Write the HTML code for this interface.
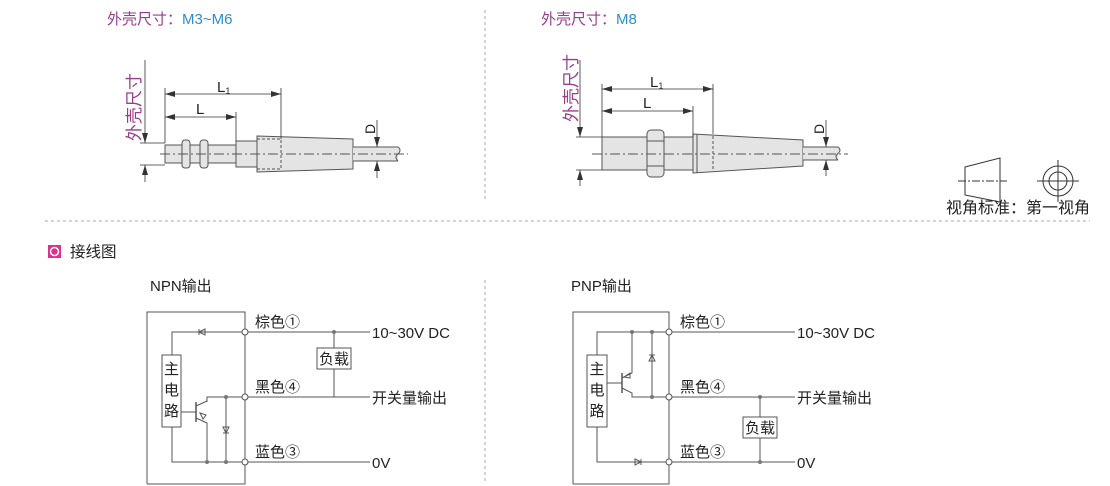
<!DOCTYPE html>
<html><head><meta charset="utf-8"><style>
body{margin:0;background:#fff}
svg{display:block}
text{font-family:"Liberation Sans","Noto Sans CJK SC",sans-serif}
</style></head><body>
<svg width="1110" height="486" viewBox="0 0 1110 486" xmlns="http://www.w3.org/2000/svg">
<defs>
<marker id="ar" viewBox="0 0 10 6" refX="10" refY="3" markerWidth="10" markerHeight="6" orient="auto-start-reverse" markerUnits="userSpaceOnUse"><path d="M0,0L10,3L0,6z" fill="#333"/></marker>
</defs>
<!-- titles -->
<text x="107" y="24" font-size="15" fill="#9b3b8c">外壳尺寸：<tspan fill="#2a8fd0">M3~M6</tspan></text>
<text x="541" y="24" font-size="15" fill="#9b3b8c">外壳尺寸：<tspan fill="#2a8fd0">M8</tspan></text>
<!-- dividers -->
<g stroke="#aaa" stroke-dasharray="3,3" stroke-width="1">
<line x1="485" y1="10" x2="485" y2="200"/>
<line x1="45" y1="221" x2="1090" y2="221"/>
<line x1="485" y1="280" x2="485" y2="482"/>
</g>

<!-- LEFT SENSOR -->
<g stroke="#555" stroke-width="1" fill="#e4e4e4">
<rect x="165" y="145" width="71" height="18"/>
<rect x="182" y="140" width="8" height="28" rx="3"/>
<rect x="200" y="140" width="8" height="28" rx="3"/>
<rect x="236" y="141" width="21" height="26"/>
<polygon points="257,136 353,139 353,169 257,172"/>
<rect x="353" y="147" width="45" height="14" stroke="none"/>
<line x1="353" y1="147" x2="398" y2="147"/><line x1="353" y1="161" x2="398" y2="161"/>
<path d="M398,147 q4,3 0,7 q-4,3 0,7" fill="#e4e4e4"/>
<rect x="257" y="139" width="24" height="30" fill="none" stroke-dasharray="3,2"/>
</g>
<line x1="160" y1="154" x2="408" y2="154" stroke="#555" stroke-dasharray="10,3,2,3"/>
<g stroke="#333" stroke-width="0.8" fill="none">
<line x1="140" y1="143" x2="165" y2="143"/><line x1="140" y1="165" x2="165" y2="165"/>
<line x1="145" y1="60" x2="145" y2="143" marker-end="url(#ar)"/>
<line x1="145" y1="182" x2="145" y2="165" marker-end="url(#ar)"/>
<line x1="165" y1="88" x2="165" y2="143"/><line x1="281" y1="88" x2="281" y2="139"/><line x1="236" y1="112" x2="236" y2="141"/>
<line x1="165" y1="94" x2="281" y2="94" marker-start="url(#ar)" marker-end="url(#ar)"/>
<line x1="165" y1="117" x2="236" y2="117" marker-start="url(#ar)" marker-end="url(#ar)"/>
<line x1="377" y1="120" x2="377" y2="147" marker-end="url(#ar)"/>
<line x1="377" y1="178" x2="377" y2="161" marker-end="url(#ar)"/>
</g>
<text x="217" y="92" font-size="15" fill="#222">L<tspan font-size="9" dy="2">1</tspan></text>
<text x="196" y="114" font-size="15" fill="#222">L</text>
<text transform="translate(375,134) rotate(-90)" font-size="14" fill="#222">D</text>
<text transform="translate(140,141) rotate(-90)" font-size="17" fill="#9b3b8c">外壳尺寸</text>

<!-- RIGHT SENSOR -->
<g stroke="#555" stroke-width="1" fill="#e4e4e4">
<rect x="602" y="137" width="91" height="33"/>
<rect x="647" y="130" width="17" height="47" rx="4"/>
<line x1="647" y1="141" x2="664" y2="141"/><line x1="647" y1="166" x2="664" y2="166"/>
<polygon points="693,134 803,140 803,166 693,173"/>
<line x1="697" y1="134" x2="697" y2="173"/>
<rect x="803" y="147" width="35" height="13" stroke="none"/>
<line x1="803" y1="147" x2="838" y2="147"/><line x1="803" y1="160" x2="838" y2="160"/>
<path d="M838,147 q4,3 0,6.5 q-4,3 0,6.5" fill="#e4e4e4"/>
<line x1="713" y1="136" x2="713" y2="171" stroke-dasharray="3,2"/>
</g>
<line x1="592" y1="154" x2="848" y2="154" stroke="#555" stroke-dasharray="10,3,2,3"/>
<g stroke="#333" stroke-width="0.8" fill="none">
<line x1="576" y1="137" x2="602" y2="137"/><line x1="576" y1="170" x2="602" y2="170"/>
<line x1="580" y1="60" x2="580" y2="137" marker-end="url(#ar)"/>
<line x1="580" y1="186" x2="580" y2="170" marker-end="url(#ar)"/>
<line x1="602" y1="84" x2="602" y2="137"/><line x1="713" y1="84" x2="713" y2="134"/><line x1="693" y1="106" x2="693" y2="137"/>
<line x1="602" y1="89" x2="713" y2="89" marker-start="url(#ar)" marker-end="url(#ar)"/>
<line x1="602" y1="111" x2="693" y2="111" marker-start="url(#ar)" marker-end="url(#ar)"/>
<line x1="826" y1="120" x2="826" y2="147" marker-end="url(#ar)"/>
<line x1="826" y1="176" x2="826" y2="160" marker-end="url(#ar)"/>
</g>
<text x="650" y="87" font-size="15" fill="#222">L<tspan font-size="9" dy="2">1</tspan></text>
<text x="643" y="108" font-size="15" fill="#222">L</text>
<text transform="translate(824,134) rotate(-90)" font-size="14" fill="#222">D</text>
<text transform="translate(577,122) rotate(-90)" font-size="17" fill="#9b3b8c">外壳尺寸</text>

<!-- view symbol -->
<g stroke="#333" stroke-width="1" fill="none">
<polygon points="965,167 1000,158 1000,202 965,195"/>
<line x1="958" y1="181" x2="1007" y2="181" stroke-dasharray="8,2,2,2"/>
<circle cx="1058" cy="181" r="15"/><circle cx="1058" cy="181" r="9"/>
<line x1="1037" y1="181" x2="1079" y2="181"/><line x1="1058" y1="160" x2="1058" y2="202"/>
</g>
<text x="946" y="213" font-size="16" fill="#222">视角标准：第一视角</text>

<!-- section header -->
<rect x="48" y="245" width="13" height="13" fill="#e0308a"/>
<circle cx="54.5" cy="251.5" r="4" fill="none" stroke="#fff" stroke-width="1.5"/>
<text x="70" y="257" font-size="15.5" fill="#222">接线图</text>

<text x="150" y="291" font-size="15" fill="#222">NPN输出</text>
<text x="571" y="291" font-size="15" fill="#222">PNP输出</text>

<!-- NPN -->
<g stroke="#555" stroke-width="1" fill="none">
<polyline points="147,484 147,312 245,312 245,484 147,484"/>
<polyline points="172,355 172,332 370,332"/>
<line x1="334" y1="332" x2="334" y2="397"/>
<polyline points="207,402 207,397 370,397"/>
<polyline points="172,427 172,462 370,462"/>
<line x1="226" y1="397" x2="226" y2="462"/>
<line x1="181" y1="412" x2="196" y2="412"/>
<line x1="196" y1="402" x2="196" y2="422" stroke-width="1.5"/>
<line x1="196" y1="406" x2="207" y2="401"/>
<polyline points="196,418 207,423 207,462"/>
<path d="M200,413 l6,2 l-3,4z"/>
<path d="M199,329 v6 M205,329 l-6,3 l6,3z"/>
<path d="M223,433 h6 M223,427 h6 l-3,6z"/>
</g>
<rect x="162" y="355" width="19" height="72" fill="#fff" stroke="#555"/>
<text x="171.5" y="374" font-size="15" fill="#222" text-anchor="middle">主</text>
<text x="171.5" y="395" font-size="15" fill="#222" text-anchor="middle">电</text>
<text x="171.5" y="416" font-size="15" fill="#222" text-anchor="middle">路</text>
<rect x="317" y="348" width="34" height="21" fill="#fff" stroke="#555"/>
<text x="334" y="364" font-size="15" fill="#222" text-anchor="middle">负载</text>
<g fill="#777"><circle cx="334" cy="332" r="2"/><circle cx="226" cy="397" r="2"/><circle cx="207" cy="462" r="2"/><circle cx="226" cy="462" r="2"/></g>
<g fill="#fff" stroke="#555"><circle cx="245" cy="332" r="3"/><circle cx="245" cy="397" r="3"/><circle cx="245" cy="462" r="3"/></g>
<text x="255" y="327" font-size="15" fill="#222">棕色①</text>
<text x="255" y="392" font-size="15" fill="#222">黑色④</text>
<text x="255" y="457" font-size="15" fill="#222">蓝色③</text>
<text x="372" y="338" font-size="15" fill="#222">10~30V DC</text>
<text x="372" y="403" font-size="15" fill="#222">开关量输出</text>
<text x="372" y="468" font-size="15" fill="#222">0V</text>

<!-- PNP -->
<g stroke="#555" stroke-width="1" fill="none">
<polyline points="573,484 573,312 669,312 669,484 573,484"/>
<polyline points="597,355 597,332 795,332"/>
<polyline points="632,332 632,373 622,378"/>
<line x1="652" y1="332" x2="652" y2="397"/>
<line x1="760" y1="397" x2="760" y2="462"/>
<polyline points="622,388 632,393 632,397 795,397"/>
<polyline points="597,427 597,462 795,462"/>
<line x1="607" y1="383" x2="622" y2="383"/>
<line x1="622" y1="373" x2="622" y2="393" stroke-width="1.5"/>
<path d="M624,377 l6,-4 l0,5z"/>
<path d="M649,355 h6 M649,361 h6 l-3,-6z"/>
<path d="M641,459 v6 M635,459 l6,3 l-6,3z"/>
</g>
<rect x="587" y="355" width="20" height="72" fill="#fff" stroke="#555"/>
<text x="597" y="374" font-size="15" fill="#222" text-anchor="middle">主</text>
<text x="597" y="395" font-size="15" fill="#222" text-anchor="middle">电</text>
<text x="597" y="416" font-size="15" fill="#222" text-anchor="middle">路</text>
<rect x="743" y="417" width="34" height="21" fill="#fff" stroke="#555"/>
<text x="760" y="433" font-size="15" fill="#222" text-anchor="middle">负载</text>
<g fill="#777"><circle cx="632" cy="332" r="2"/><circle cx="652" cy="332" r="2"/><circle cx="652" cy="397" r="2"/><circle cx="760" cy="397" r="2"/><circle cx="760" cy="462" r="2"/></g>
<g fill="#fff" stroke="#555"><circle cx="669" cy="332" r="3"/><circle cx="669" cy="397" r="3"/><circle cx="669" cy="462" r="3"/></g>
<text x="680" y="327" font-size="15" fill="#222">棕色①</text>
<text x="680" y="392" font-size="15" fill="#222">黑色④</text>
<text x="680" y="457" font-size="15" fill="#222">蓝色③</text>
<text x="797" y="338" font-size="15" fill="#222">10~30V DC</text>
<text x="797" y="403" font-size="15" fill="#222">开关量输出</text>
<text x="797" y="468" font-size="15" fill="#222">0V</text>
</svg>
</body></html>
